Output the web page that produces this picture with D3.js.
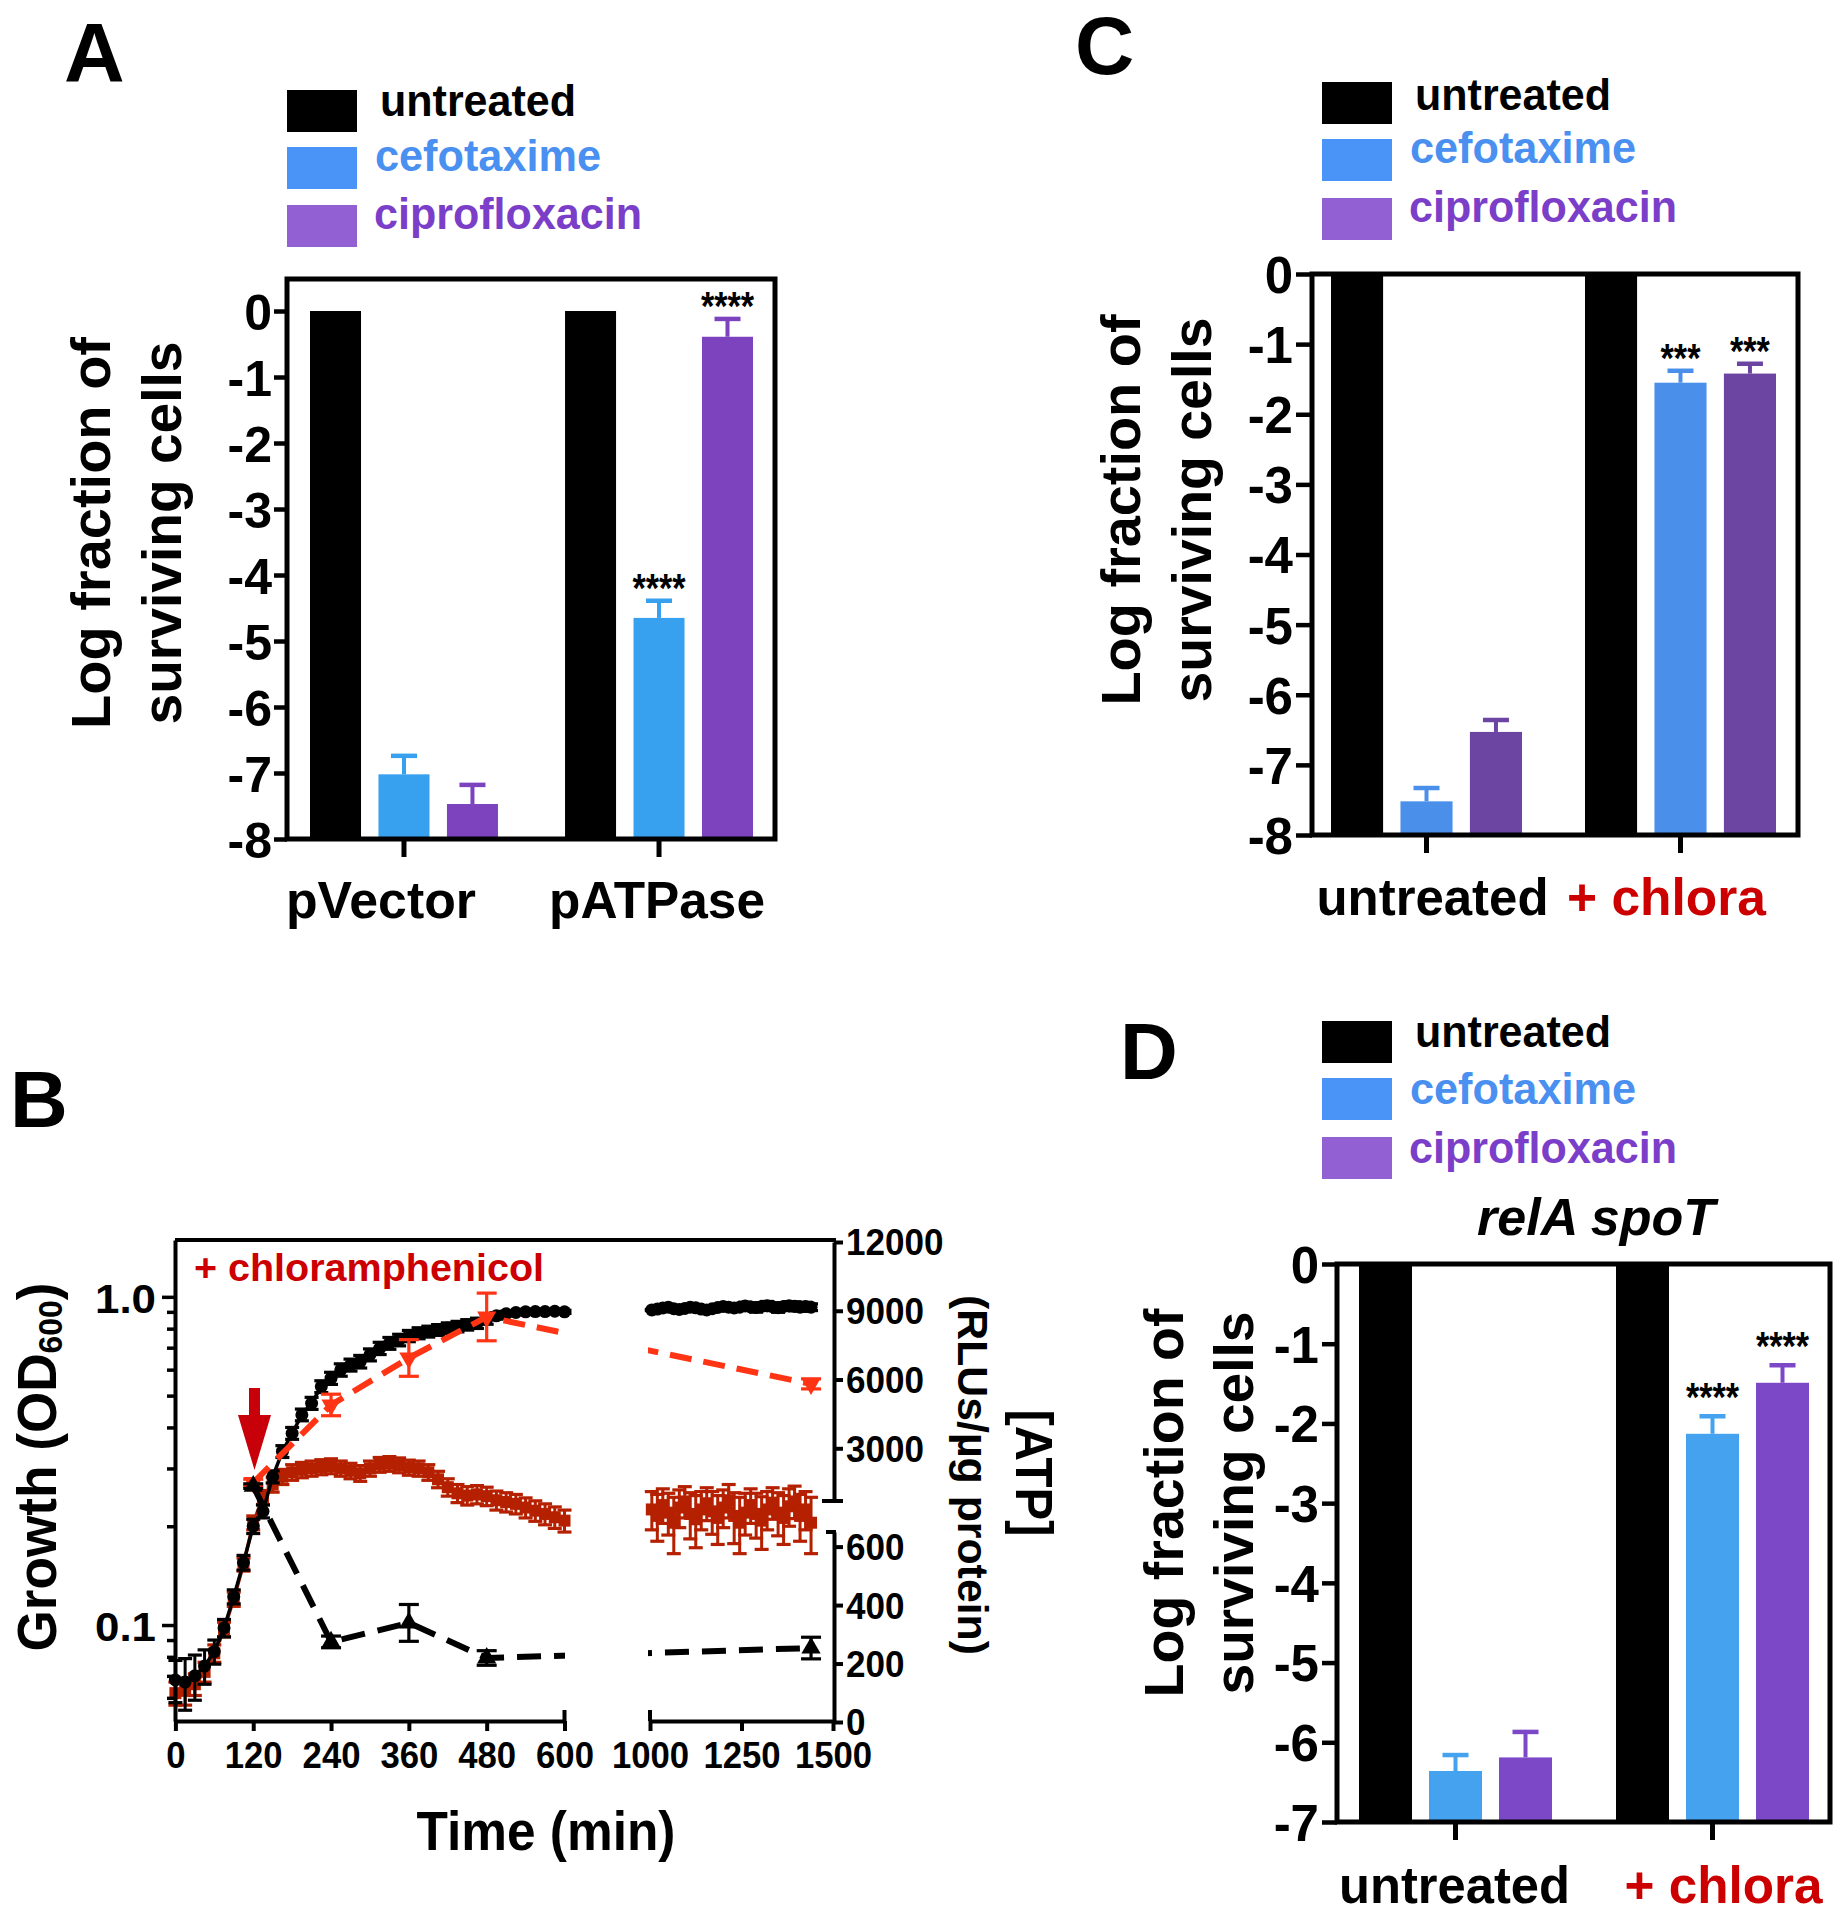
<!DOCTYPE html>
<html><head><meta charset="utf-8">
<script src="https://cdn.jsdelivr.net/npm/d3@7"></script>
<style>
body{margin:0;background:#fff}
svg{display:block}
text{font-family:"Liberation Sans",Arial,Helvetica,sans-serif;font-weight:bold}
</style>
</head><body>
<svg id="fig" width="1848" height="1920"></svg>
<script>
// ================= DATA =================
const seriesNames = ["untreated", "cefotaxime", "ciprofloxacin"];

// Panel A
const groupsA = ["pVector", "pATPase"];
const meansA = [[0, -7.02, -7.47], [0, -4.65, -0.39]];
const errsA  = [[0, 0.28, 0.29], [0, 0.26, 0.27]];
const starsA = [["", "", ""], ["", "****", "****"]];
const yTicksA = [0, -1, -2, -3, -4, -5, -6, -7, -8];

// Panel C
const groupsC = ["untreated", "+ chlora"];
const meansC = [[0, -7.52, -6.53], [0, -1.55, -1.42]];
const errsC  = [[0, 0.19, 0.17], [0, 0.17, 0.14]];
const starsC = [["", "", ""], ["", "***", "***"]];
const yTicksC = [0, -1, -2, -3, -4, -5, -6, -7, -8];

// Panel D (relA spoT)
const groupsD = ["untreated", "+ chlora"];
const meansD = [[0, -6.36, -6.19], [0, -2.13, -1.49]];
const errsD  = [[0, 0.20, 0.32], [0, 0.22, 0.22]];
const starsD = [["", "", ""], ["", "****", "****"]];
const yTicksD = [0, -1, -2, -3, -4, -5, -6, -7];

// Panel B : growth (OD600) and ATP
const timesSeg1 = [0,15,30,45,60,75,90,105,120,135,150,165,180,195,210,225,240,255,270,285,300,315,330,345,360,375,390,405,420,435,450,465,480,495,510,525,540,555,570,585,600];
const timesSeg2 = [1005,1020,1035,1050,1065,1080,1095,1110,1125,1140,1155,1170,1185,1200,1215,1230,1245,1260,1275,1290,1305,1320,1335,1350,1365,1380,1395,1410,1425,1440];

const odUntreated1 = [0.068,0.067,0.070,0.075,0.083,0.098,0.122,0.155,0.200,0.222,0.283,0.338,0.384,0.437,0.474,0.533,0.565,0.599,0.620,0.635,0.666,0.697,0.722,0.739,0.760,0.775,0.784,0.793,0.803,0.812,0.822,0.831,0.855,0.875,0.888,0.896,0.900,0.902,0.902,0.904,0.900];
const odUntreatedErr1 = [0.010,0.012,0.011,0.009,0.007,0.006,0.006,0.008,0.010,0.010,0.012,0.014,0.016,0.018,0.020,0.022,0.024,0.026,0.026,0.028,0.028,0.030,0.030,0.030,0.030,0.030,0.030,0.030,0.030,0.030,0.030,0.030,0.030,0.020,0.015,0.012,0.010,0.010,0.010,0.010,0.010];
const odUntreated2 = [0.912,0.918,0.925,0.930,0.920,0.915,0.922,0.930,0.926,0.918,0.912,0.920,0.928,0.935,0.930,0.925,0.930,0.938,0.932,0.928,0.935,0.940,0.933,0.927,0.935,0.940,0.936,0.930,0.934,0.930];
const odUntreatedErr2 = [0.004,0.004,0.004,0.004,0.004,0.004,0.004,0.004,0.004,0.004,0.004,0.004,0.004,0.004,0.004,0.004,0.004,0.025,0.020,0.030,0.022,0.028,0.025,0.030,0.022,0.026,0.030,0.024,0.028,0.022];

const odChlora1 = [0.062,0.063,0.066,0.072,0.082,0.097,0.120,0.153,0.205,0.245,0.268,0.283,0.292,0.297,0.300,0.303,0.305,0.300,0.295,0.290,0.300,0.308,0.310,0.307,0.302,0.300,0.292,0.278,0.263,0.252,0.248,0.250,0.247,0.240,0.237,0.234,0.228,0.223,0.218,0.213,0.208];
const odChloraErr1 = [0.005,0.006,0.005,0.005,0.005,0.005,0.006,0.007,0.010,0.012,0.014,0.015,0.016,0.016,0.016,0.016,0.016,0.016,0.016,0.016,0.016,0.016,0.016,0.016,0.016,0.016,0.016,0.016,0.016,0.016,0.016,0.016,0.016,0.016,0.016,0.016,0.016,0.016,0.016,0.016,0.016];
const odChlora2 = [0.225,0.215,0.232,0.220,0.205,0.228,0.238,0.218,0.210,0.225,0.235,0.222,0.212,0.228,0.240,0.215,0.205,0.220,0.232,0.218,0.208,0.225,0.236,0.220,0.212,0.230,0.238,0.215,0.225,0.205];
const odChloraErr2 = [0.030,0.035,0.028,0.032,0.040,0.030,0.026,0.035,0.038,0.030,0.027,0.033,0.036,0.030,0.028,0.038,0.040,0.032,0.028,0.034,0.038,0.030,0.026,0.033,0.036,0.030,0.027,0.035,0.030,0.040];

const atpTimes = [120, 240, 360, 480, 1440];
const atpUntreated = [1500, 4890, 6940, 8730, 5810];
const atpUntreatedErr = [150, 470, 800, 1040, 220];
const atpChlora = [1350, 274, 339, 219, 253];
const atpChloraErr = [100, 20, 63, 25, 37];

const xTicksSeg1 = [0, 120, 240, 360, 480, 600];
const xTicksSeg2 = [1000, 1250, 1500];
const odTicks = [0.06,0.07,0.08,0.09,0.1,0.2,0.3,0.4,0.5,0.6,0.7,0.8,0.9,1.0];
const atpTicksHigh = [3000, 6000, 9000, 12000];
const atpTicksLow = [0, 200, 400, 600];

// ================= DRAWING =================
const FONT = '"Liberation Sans", Arial, Helvetica, sans-serif';
const svg = d3.select("#fig");

function txt(g, s, x, y, o = {}) {
  const t = g.append("text").attr("x", x).attr("y", y).text(s)
    .attr("font-size", o.size || 40).attr("font-weight", "bold")
    .attr("fill", o.fill || "#000").attr("text-anchor", o.anchor || "start");
  if (o.len) t.attr("textLength", o.len).attr("lengthAdjust", "spacingAndGlyphs");
  if (o.rot) t.attr("transform", `rotate(${o.rot},${x},${y})`);
  if (o.italic) t.attr("font-style", "italic");
  return t;
}

function legend(g, p) {
  const swatch = ["#000000", "#4a93f7", "#9260d2"];
  const tcol = ["#000000", "#4a90f0", "#7b3ec8"];
  const lens = [196, 226, 268];
  seriesNames.forEach((s, i) => {
    g.append("rect").attr("x", p.lx).attr("y", p.ly[i]).attr("width", 70).attr("height", 42).attr("fill", swatch[i]);
    txt(g, s, p.tx[i], p.tb[i], { size: 44, fill: tcol[i], len: lens[i] });
  });
}

function barPanel(p) {
  const g = svg.append("g");
  const y = d3.scaleLinear().domain(p.yDomain).range([p.frame.b, p.frame.t]);
  const x0 = d3.scaleBand().domain(p.groups).range(p.barRange).paddingInner(p.padG).paddingOuter(0);
  const x1 = d3.scaleBand().domain(seriesNames).range([0, x0.bandwidth()]).paddingInner(p.padS).paddingOuter(0);
  const base = y(p.yDomain[0]);
  p.groups.forEach((grp, gi) => {
    seriesNames.forEach((s, si) => {
      const v = p.means[gi][si], e = p.errs[gi][si];
      const bx = x0(grp) + x1(s), bw = x1.bandwidth(), cx = bx + bw / 2;
      g.append("rect").attr("x", bx).attr("y", y(v)).attr("width", bw)
        .attr("height", base - y(v)).attr("fill", p.barColors[si]);
      if (e > 0) {
        g.append("line").attr("x1", cx).attr("x2", cx).attr("y1", y(v)).attr("y2", y(v + e))
          .attr("stroke", p.barColors[si]).attr("stroke-width", 4);
        g.append("line").attr("x1", cx - 13).attr("x2", cx + 13).attr("y1", y(v + e)).attr("y2", y(v + e))
          .attr("stroke", p.barColors[si]).attr("stroke-width", 4.5);
      }
      if (p.stars[gi][si]) {
        txt(g, p.stars[gi][si], cx, y(v + e) + p.starDy, { size: 40, anchor: "middle", len: p.stars[gi][si].length * 13.3 });
      }
    });
  });
  g.append("rect").attr("x", p.frame.l).attr("y", p.frame.t)
    .attr("width", p.frame.r - p.frame.l).attr("height", p.frame.b - p.frame.t)
    .attr("fill", "none").attr("stroke", "#000").attr("stroke-width", 5);
  const ya = g.append("g").attr("transform", `translate(${p.frame.l},0)`)
    .call(d3.axisLeft(y).tickValues(p.yTicks).tickFormat(d => String(d)).tickSize(p.tickLen).tickPadding(p.tickPad).tickSizeOuter(0));
  ya.select(".domain").remove();
  ya.attr("font-family", FONT).attr("font-size", p.tickFont);
  ya.selectAll("line").attr("stroke-width", 4.5);
  ya.selectAll("text").attr("font-weight", "bold").attr("dy", "0.36em");
  const xa = g.append("g").attr("transform", `translate(0,${p.frame.b})`)
    .call(d3.axisBottom(x0).tickSize(18).tickFormat(""));
  xa.select(".domain").remove();
  xa.selectAll("line").attr("stroke-width", 5);
  p.groups.forEach((grp, gi) => {
    const cx = x0(grp) + x0.bandwidth() / 2 + p.xlabDx[gi];
    txt(g, grp, cx, p.xlabY, { size: 52, anchor: "middle", fill: p.xlabCol[gi], len: p.xlabLen[gi] });
  });
  txt(g, "Log fraction of", p.titleX[0], p.titleCy, { size: 55, anchor: "middle", rot: -90, len: p.titleLen[0] });
  txt(g, "surviving cells", p.titleX[1], p.titleCy, { size: 55, anchor: "middle", rot: -90, len: p.titleLen[1] });
  legend(g, p);
  txt(g, p.letter, p.letterX, p.letterY, { size: p.letterSize || 84 });
  return g;
}

// Panel A
barPanel({
  groups: groupsA, means: meansA, errs: errsA, stars: starsA, yTicks: yTicksA,
  frame: { l: 287, r: 775, t: 279, b: 839 }, yDomain: [-8, 0.485],
  barRange: [310, 753], padG: 0.263, padS: 0.255,
  barColors: ["#000000", "#38a1ef", "#7d43be"],
  tickLen: 13, tickPad: 2, tickFont: 50, starDy: 1,
  xlabY: 918, xlabDx: [-23, -2], xlabCol: ["#000", "#000"], xlabLen: [190, 216],
  titleX: [110, 181], titleCy: 533, titleLen: [392, 383],
  lx: 287, ly: [90, 147, 205], tx: [380, 375, 374], tb: [116, 171, 229],
  letter: "A", letterX: 64, letterY: 82
});

// Panel C
barPanel({
  groups: groupsC, means: meansC, errs: errsC, stars: starsC, yTicks: yTicksC,
  frame: { l: 1312, r: 1798, t: 274, b: 835 }, yDomain: [-8, 0],
  barRange: [1331, 1776], padG: 0.248, padS: 0.25,
  barColors: ["#000000", "#4a90ea", "#6c44a2"],
  tickLen: 16, tickPad: 3, tickFont: 51, starDy: 1,
  xlabY: 915, xlabDx: [6, -14], xlabCol: ["#000", "#cc0000"], xlabLen: [232, 199],
  titleX: [1140, 1211], titleCy: 510, titleLen: [391, 385],
  lx: 1322, ly: [82, 139, 198], tx: [1415, 1410, 1409], tb: [110, 163, 222],
  letter: "C", letterX: 1075, letterY: 74, letterSize: 82
});

// Panel D
const gD = barPanel({
  groups: groupsD, means: meansD, errs: errsD, stars: starsD, yTicks: yTicksD,
  frame: { l: 1337, r: 1830, t: 1264, b: 1822 }, yDomain: [-7, 0],
  barRange: [1359, 1809], padG: 0.249, padS: 0.243,
  barColors: ["#000000", "#45a2ee", "#7d48c8"],
  tickLen: 15, tickPad: 3, tickFont: 51, starDy: -5,
  xlabY: 1903, xlabDx: [-1, 11], xlabCol: ["#000", "#cc0000"], xlabLen: [231, 198],
  titleX: [1183, 1253], titleCy: 1503, titleLen: [389, 383],
  lx: 1322, ly: [1021, 1078, 1137], tx: [1415, 1410, 1409], tb: [1047, 1104, 1163],
  letter: "D", letterX: 1120, letterY: 1079, letterSize: 80
});
txt(gD, "relA spoT", 1596, 1235, { size: 52, anchor: "middle", italic: true, len: 238 });

// ================= Panel B =================
const gB = svg.append("g");
const xS1 = d3.scaleLinear().domain([0, 600]).range([175.4, 564.5]);
const xS2 = d3.scaleLinear().domain([1000, 1500]).range([650, 833]);
const xT = t => (t <= 800 ? xS1(t) : xS2(t));
const yOD = d3.scaleLog().domain([0.051, 1.49]).range([1721, 1240]);
const atpLow = d3.scaleLinear().domain([0, 650]).range([1722, 1532]);
const atpHigh = d3.scaleLinear().domain([700, 12000]).range([1501, 1242]);
const atpY = v => (v >= 650 ? atpHigh(v) : atpLow(v));

const defs = svg.append("defs");
const cp = defs.append("clipPath").attr("id", "segclip");
cp.append("rect").attr("x", 170).attr("y", 1200).attr("width", 395).attr("height", 560);
cp.append("rect").attr("x", 648).attr("y", 1200).attr("width", 190).attr("height", 560);

// OD series
function odSeries(times, vals, errs, color, shape) {
  const pts = times.map((t, i) => ({ x: xT(t), y: yOD(vals[i]), lo: yOD(vals[i] - errs[i]), hi: yOD(vals[i] + errs[i]) }));
  gB.append("path").attr("d", d3.line().x(d => d.x).y(d => d.y)(pts))
    .attr("fill", "none").attr("stroke", color).attr("stroke-width", 3.5);
  pts.forEach(d => {
    gB.append("line").attr("x1", d.x).attr("x2", d.x).attr("y1", d.lo).attr("y2", d.hi).attr("stroke", color).attr("stroke-width", 3);
    [d.lo, d.hi].forEach(yy => gB.append("line").attr("x1", d.x - 7).attr("x2", d.x + 7).attr("y1", yy).attr("y2", yy).attr("stroke", color).attr("stroke-width", 3.2));
    if (shape === "circle") gB.append("circle").attr("cx", d.x).attr("cy", d.y).attr("r", 6.5).attr("fill", color);
    else gB.append("rect").attr("x", d.x - 6).attr("y", d.y - 6).attr("width", 12).attr("height", 12).attr("fill", color);
  });
}
const RED_SQ = "#b52000";
odSeries(timesSeg1, odChlora1, odChloraErr1, RED_SQ, "square");
odSeries(timesSeg2, odChlora2, odChloraErr2, RED_SQ, "square");
odSeries(timesSeg1, odUntreated1, odUntreatedErr1, "#000", "circle");
odSeries(timesSeg2, odUntreated2, odUntreatedErr2, "#000", "circle");

// ATP series
function atpSeries(vals, errs, color, dash, inverted) {
  const pts = atpTimes.map((t, i) => ({ x: xT(t), y: atpY(vals[i]), lo: atpY(vals[i] - errs[i]), hi: atpY(vals[i] + errs[i]) }));
  gB.append("path").attr("d", d3.line().x(d => d.x).y(d => d.y)(pts))
    .attr("fill", "none").attr("stroke", color).attr("stroke-width", 6)
    .attr("stroke-dasharray", dash).attr("clip-path", "url(#segclip)");
  pts.forEach(d => {
    gB.append("line").attr("x1", d.x).attr("x2", d.x).attr("y1", d.lo).attr("y2", d.hi).attr("stroke", color).attr("stroke-width", 3.2);
    [d.lo, d.hi].forEach(yy => gB.append("line").attr("x1", d.x - 10).attr("x2", d.x + 10).attr("y1", yy).attr("y2", yy).attr("stroke", color).attr("stroke-width", 3.2));
    gB.append("path").attr("d", d3.symbol(d3.symbolTriangle, 160)())
      .attr("transform", `translate(${d.x},${d.y}) rotate(${inverted ? 180 : 0})`).attr("fill", color);
  });
}
atpSeries(atpUntreated, atpUntreatedErr, "#ff3414", "22,12", true);
atpSeries(atpChlora, atpChloraErr, "#000", "24,13", false);

// frame & axes
gB.append("line").attr("x1", 175).attr("x2", 836).attr("y1", 1240).attr("y2", 1240).attr("stroke", "#000").attr("stroke-width", 4);

const yaB = gB.append("g").attr("transform", "translate(175,0)")
  .call(d3.axisLeft(yOD).tickValues(odTicks).tickFormat(d => (Math.abs(d - 0.1) < 1e-9 ? "0.1" : Math.abs(d - 1) < 1e-9 ? "1.0" : ""))
    .tickSize(8).tickPadding(9).tickSizeOuter(0));
yaB.attr("font-family", FONT).attr("font-size", 40);
yaB.select(".domain").attr("stroke-width", 4);
yaB.selectAll("line").attr("stroke-width", 3.5);
yaB.selectAll(".tick").filter(d => Math.abs(d - 0.1) < 1e-9 || Math.abs(d - 1) < 1e-9).select("line").attr("x2", -13);
yaB.selectAll("text").attr("font-weight", "bold").attr("x", -19).attr("dy", "0.38em")
  .attr("textLength", 61).attr("lengthAdjust", "spacingAndGlyphs");

function bottomAxis(scale, ticks) {
  const a = gB.append("g").attr("transform", "translate(0,1721)")
    .call(d3.axisBottom(scale).tickValues(ticks).tickFormat(d => String(d)).tickSize(10).tickSizeOuter(0));
  a.attr("font-family", FONT).attr("font-size", 36);
  a.select(".domain").attr("stroke-width", 4);
  a.selectAll("line").attr("stroke-width", 4);
  a.selectAll("text").attr("font-weight", "bold").attr("y", 47).attr("dy", 0)
    .attr("textLength", d => String(d).length * 19.3).attr("lengthAdjust", "spacingAndGlyphs");
  return a;
}
bottomAxis(xS1, xTicksSeg1);
bottomAxis(xS2, xTicksSeg2);
[xS1(600), xS2(1000)].forEach(x => gB.append("line").attr("x1", x).attr("x2", x).attr("y1", 1710).attr("y2", 1721).attr("stroke", "#000").attr("stroke-width", 4));

function rightAxis(scale, ticks) {
  const a = gB.append("g").attr("transform", "translate(834,0)")
    .call(d3.axisRight(scale).tickValues(ticks).tickFormat(d => String(d)).tickSize(9).tickPadding(3).tickSizeOuter(0));
  a.attr("font-family", FONT).attr("font-size", 36);
  a.select(".domain").attr("stroke-width", 4);
  a.selectAll("line").attr("stroke-width", 4);
  a.selectAll("text").attr("font-weight", "bold").attr("dy", "0.36em")
    .attr("textLength", d => String(d).length * 19.5).attr("lengthAdjust", "spacingAndGlyphs");
  return a;
}
rightAxis(atpHigh, atpTicksHigh);
rightAxis(atpLow, atpTicksLow);
gB.append("line").attr("x1", 822).attr("x2", 843).attr("y1", 1501).attr("y2", 1501).attr("stroke", "#000").attr("stroke-width", 4);
gB.append("line").attr("x1", 826).attr("x2", 836).attr("y1", 1532).attr("y2", 1532).attr("stroke", "#000").attr("stroke-width", 4);

// arrow
gB.append("path").attr("d", "M249,1388 H260 V1415 H271 L254.5,1470 L238,1415 H249 Z").attr("fill", "#c8000a");

// texts
txt(gB, "+ chloramphenicol", 194, 1281, { size: 39, fill: "#cc0000", len: 350 });
txt(gB, "Time (min)", 546, 1850, { size: 55, anchor: "middle", len: 259 });
const gt = txt(gB, "Growth (OD", 56, 1467, { size: 55, anchor: "middle", rot: -90, len: 369 });
gt.text(null);
gt.append("tspan").text("Growth (OD");
gt.append("tspan").text("600").attr("font-size", 33).attr("baseline-shift", "-6");
gt.append("tspan").text(")");
txt(gB, "[ATP]", 1016, 1473, { size: 52, anchor: "middle", rot: 90, len: 127 });
txt(gB, "(RLUs/\u00b5g protein)", 958, 1475, { size: 42, anchor: "middle", rot: 90, len: 360 });
txt(gB, "B", 10, 1127, { size: 80 });
</script>
</body></html>
